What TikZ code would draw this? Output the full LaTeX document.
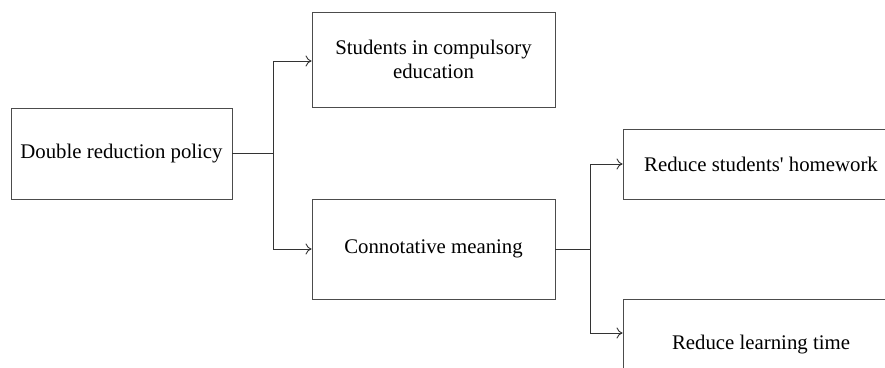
\documentclass[tikz,border=0pt]{standalone}
\usepackage{fontspec}
\setmainfont{Liberation Serif}
\usetikzlibrary{arrows.meta}
\begin{document}
\begin{tikzpicture}[x=1pt,y=-1pt,
  box/.style={draw=black!70, line width=0.9pt, rectangle, inner sep=0pt, align=center,
    font=\fontsize{20.8}{24}\selectfont, text=black},
  conn/.style={draw=black!80, line width=0.9pt},
  arr/.style={conn, -{To[length=6pt,width=11pt]}}]
\useasboundingbox (0,0) rectangle (885,367);
\clip (0,0) rectangle (885,367);
\node[box, minimum width=221pt, minimum height=91pt] (dbl) at (121.5,153.5) {Double reduction policy};
\node[box, minimum width=243pt, minimum height=95pt] (stu) at (433.5,59.5) {Students in compulsory\\education};
\node[box, minimum width=243pt, minimum height=100pt] (con) at (433.5,249) {Connotative meaning};
\node[box, minimum width=276pt, minimum height=70pt] (hw) at (761,164) {Reduce students\textquotesingle{} homework};
\node[box, minimum width=276pt, minimum height=92pt] (lt) at (761,345) {Reduce learning time};
\coordinate (j1) at (273,153.5);
\coordinate (j2) at (590,249);
\draw[conn] (dbl.east) -- (j1);
\draw[arr] ([yshift=-1.5pt]j1) |- ([yshift=-1.5pt]stu.west);
\draw[arr] (j1) |- (con.west);
\draw[conn] (con.east) -- (j2);
\draw[arr] (j2) |- (hw.west);
\draw[arr] (j2) |- ([yshift=12pt]lt.west);
\end{tikzpicture}
\end{document}
